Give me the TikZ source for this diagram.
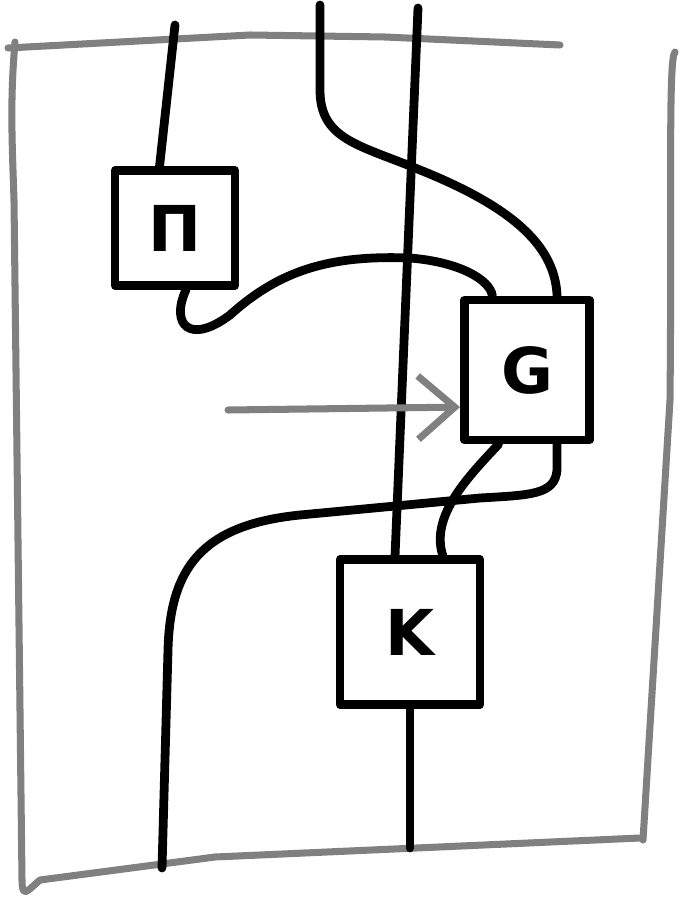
\documentclass[tikz,border=0pt]{standalone}
\usepackage{fontspec}
\setsansfont{DejaVu Sans}
\usetikzlibrary{arrows.meta}

\begin{document}
\begin{tikzpicture}[x=0.03cm, y=-0.03cm, line cap=round, line join=round, wire/.style={line width=7.5pt, black}, frame/.style={line width=6pt, gray}, gbox/.style={draw, line width=7.5pt, font=\sffamily\bfseries\fontsize{54}{54}\selectfont}, arr/.style={line width=6pt, gray, -{Straight Barb[length=1.1cm, width=1.9cm]}}]
\useasboundingbox (0,0) rectangle (684,907);
% frame
\draw[frame] (8,48) -- (250,35) -- (385,37) -- (560,45);
\draw[frame] (15,42) .. controls (10,100) and (12,140) .. (14,200) -- (22,880) .. controls (22,900) and (28,890) .. (40,880) -- (215,857) -- (640,838);
\draw[frame] (675,52) .. controls (668,58) and (672,200) .. (670,400) -- (643,840);
% boxes
\node[gbox, minimum width=3.6cm, minimum height=3.45cm] (pi) at (175,228) {Π};
\node[gbox, minimum width=3.75cm, minimum height=4.2cm] (g) at (527,370) {G};
\node[gbox, minimum width=4.2cm, minimum height=4.35cm] (k) at (410,632) {K};
% free ends
\coordinate (pitop) at (175,25);
\coordinate (atop) at (320,5);
\coordinate (btop) at (418,8);
\coordinate (kbot) at (410,848);
\coordinate (cbot) at (162,868);
\coordinate (tail) at (228,410);
% wires
\draw[wire] (pitop) -- (pi.104);
\draw[wire] (pi.280) .. controls (170,325) and (190,345) .. (230,315) .. controls (280,270) and (330,255) .. (410,258) .. controls (460,262) and (490,280) .. (g.115);
\draw[wire] (atop) -- (320,90) .. controls (320,140) and (360,145) .. (420,170) .. controls (520,210) and (555,250) .. (g.68);
\draw[wire] (btop) -- (k.101);
\draw[wire] (g.249) .. controls (470,475) and (430,515) .. (k.67);
\draw[wire] (g.292) -- (557,470) .. controls (555,495) and (530,495) .. (480,498) -- (300,515) .. controls (200,525) and (170,570) .. (168,650) -- (cbot);
\draw[wire] (k.south) -- (kbot);
\draw[arr] (tail) -- (g.209);
\end{tikzpicture}
\end{document}
